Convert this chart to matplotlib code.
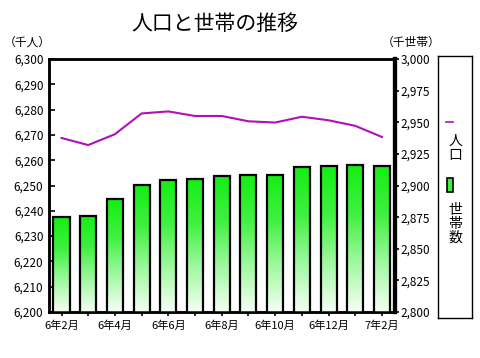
import matplotlib
matplotlib.use("Agg")
import matplotlib.pyplot as plt
import numpy as np
from matplotlib.patches import Rectangle
from matplotlib.ticker import FuncFormatter, MultipleLocator

plt.rcParams['font.family'] = ['Noto Sans CJK JP', 'DejaVu Sans']

# data
months = ["6年2月", "6年3月", "6年4月", "6年5月", "6年6月", "6年7月", "6年8月",
          "6年9月", "6年10月", "6年11月", "6年12月", "7年1月", "7年2月"]
population = [6268.8, 6266.0, 6270.3, 6278.5, 6279.3, 6277.5, 6277.5,
              6275.4, 6274.9, 6277.2, 6275.8, 6273.6, 6269.2]   # 千人
households = [2875.0, 2876.2, 2889.0, 2900.5, 2904.5, 2905.3, 2907.6,
              2908.4, 2908.4, 2914.8, 2915.6, 2916.4, 2915.6]   # 千世帯

line_color = "#b010b8"
comma = FuncFormatter(lambda v, p: f"{v:,.0f}")

fig = plt.figure(figsize=(4.8, 3.58), dpi=100)
ax = fig.add_axes([0.102, 0.1285, 0.721, 0.7065])
ax2 = ax.twinx()

x = np.arange(len(months))

# bars with vertical gradient (green -> white)
grad = np.linspace(0, 1, 256).reshape(-1, 1)
cmap = matplotlib.colors.LinearSegmentedColormap.from_list(
    "g", ["#f6fff6", "#a0f8a0", "#40f040", "#14ee14"])
bars = ax2.bar(x, households, width=0.6, bottom=0, facecolor="none",
               edgecolor="black", linewidth=1.6, zorder=3)
for b in bars:
    x0, w, h = b.get_x(), b.get_width(), b.get_height()
    im = ax2.imshow(grad, extent=[x0, x0 + w, 2800, h], origin="lower",
                    cmap=cmap, aspect="auto", zorder=2)
    im.set_clip_path(b)

ax.plot(x, population, color=line_color, linewidth=1.5, zorder=4)

ax.set_xlim(-0.47, 12.49)
ax.set_ylim(6200, 6300)
ax2.set_ylim(2800, 3000)
ax2.set_xlim(-0.47, 12.49)

ax.yaxis.set_major_locator(MultipleLocator(10))
ax.yaxis.set_major_formatter(comma)
ax2.yaxis.set_major_locator(MultipleLocator(25))
ax2.yaxis.set_major_formatter(comma)

ax.set_xticks(x)
ax.set_xticklabels([m if i % 2 == 0 else "" for i, m in enumerate(months)])

ax.tick_params(axis="y", direction="in", length=4, width=1.2, labelsize=8.5, pad=4)
ax.tick_params(axis="x", direction="out", length=3, width=1.2, labelsize=8, pad=3)
ax2.tick_params(axis="y", direction="out", length=3, width=1.2, labelsize=8.5, pad=1)

for a in (ax, ax2):
    for s in ("top", "bottom", "left"):
        a.spines[s].set_linewidth(1.8)
    a.spines["right"].set_linewidth(3)

fig.text(0.448, 0.932, "人口と世帯の推移", ha="center", va="center", fontsize=15)
fig.text(0.008, 0.882, "（千人）", ha="left", va="center", fontsize=8.5)
fig.text(0.795, 0.882, "（千世帯）", ha="left", va="center", fontsize=8.5)

# legend box drawn at figure level
lg = fig.add_axes([0.913, 0.112, 0.071, 0.732])
lg.set_xlim(0, 1)
lg.set_ylim(0, 1)
lg.set_xticks([])
lg.set_yticks([])
for s in lg.spines.values():
    s.set_linewidth(1.0)
lg.plot([0.24, 0.42], [0.748, 0.748], color=line_color, linewidth=1.2)
lg.text(0.5, 0.649, "人\n口", ha="center", va="center", fontsize=10, linespacing=0.95)
lg.add_patch(Rectangle((0.26, 0.48), 0.18, 0.055, facecolor="#40f040",
                       edgecolor="black", linewidth=1.2))
lg.text(0.5, 0.359, "世\n帯\n数", ha="center", va="center", fontsize=10, linespacing=0.95)

fig.savefig("out.png", dpi=100)
